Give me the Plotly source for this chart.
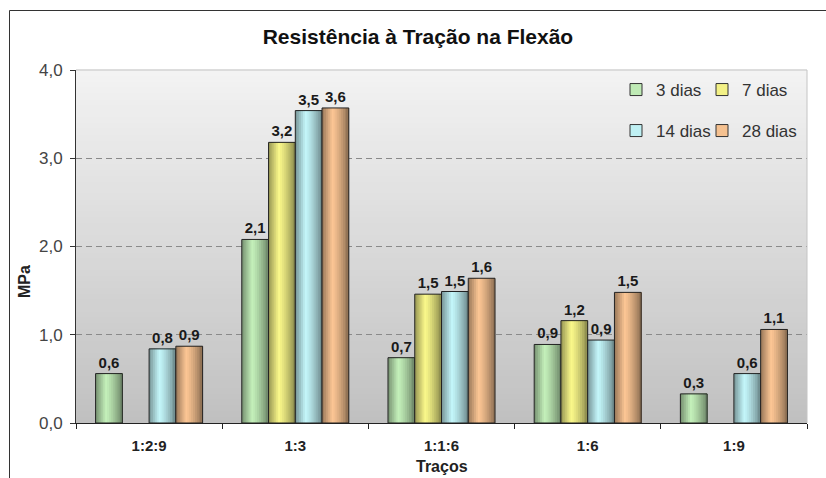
import plotly.graph_objects as go

# Data: flexural tensile strength (MPa) by mix proportion and curing age
tracos = ["1:2:9", "1:3", "1:1:6", "1:6", "1:9"]
dias_3 = [0.56, 2.08, 0.74, 0.89, 0.33]
dias_7 = [None, 3.18, 1.46, 1.16, None]
dias_14 = [0.84, 3.54, 1.49, 0.94, 0.56]
dias_28 = [0.87, 3.57, 1.64, 1.48, 1.06]

series = [
    ("3 dias", dias_3, (196, 240, 186)),
    ("7 dias", dias_7, (250, 248, 138)),
    ("14 dias", dias_14, (196, 246, 250)),
    ("28 dias", dias_28, (252, 198, 148)),
]

FONT = "Liberation Sans, Arial, sans-serif"
W, H = 826, 478
ML, MR, MT, MB = 76, 19, 70, 55
PW, PH = W - ML - MR, H - MT - MB

BAR_W = 0.183          # bar width in category units
GROUP_START = -2 * BAR_W
N_SLICES = 14


def shade(rgb, t):
    """Cylinder-like horizontal shading: dark edges, highlight left of centre."""
    if t < 0.38:
        f = 0.60 + 0.40 * (t / 0.38)
    else:
        f = 1.0 - 0.45 * ((t - 0.38) / 0.62) ** 1.3
    return "rgb(%d,%d,%d)" % tuple(max(0, min(255, round(c * f))) for c in rgb)


def fmt(v):
    return "" if v is None else f"{v:.1f}".replace(".", ",")


def px_x(px):
    return (px - ML) / PW


def px_y(py):
    return (H - MB - py) / PH


fig = go.Figure()
legend_ids = ["legend", "legend2", "legend3", "legend4"]

for i, (name, vals, rgb) in enumerate(series):
    base = GROUP_START + i * BAR_W
    # gradient fill built from nested slices, each covering to the bar's right edge
    for k in range(N_SLICES):
        t = (k + 0.5) / N_SLICES
        fig.add_trace(go.Bar(
            x=tracos, y=vals,
            offset=base + k * BAR_W / N_SLICES,
            width=BAR_W * (N_SLICES - k) / N_SLICES,
            marker=dict(color=shade(rgb, t), line=dict(width=0)),
            showlegend=False, hoverinfo="skip",
        ))
    # outline + value labels
    fig.add_trace(go.Bar(
        x=tracos, y=vals, offset=base, width=BAR_W,
        marker=dict(color="rgba(0,0,0,0)", line=dict(color="#222222", width=1)),
        text=[fmt(v) for v in vals], textposition="outside",
        textfont=dict(family=FONT, size=15, color="#1a1a1a", weight="bold"),
        cliponaxis=False, showlegend=False, name=name,
    ))
    # legend entry (one legend box per entry: 2 x 2 layout)
    fig.add_trace(go.Bar(
        x=tracos, y=[None] * len(tracos), name=name, legend=legend_ids[i],
        marker=dict(color=shade(rgb, 0.45), line=dict(color="#333333", width=1)),
        hoverinfo="skip",
    ))

# vertical gray gradient behind the plot area
shapes = []
NB = 60
for b in range(NB):
    y0, y1 = b / NB, (b + 1) / NB
    t = (b + 0.5) / NB
    g = round(192 + (243 - 192) * t)
    shapes.append(dict(type="rect", xref="paper", yref="paper", x0=0, x1=1,
                       y0=y0, y1=y1 + 0.002, layer="below", line=dict(width=0),
                       fillcolor=f"rgb({g},{g},{g})"))
# light frame on top/right of the plot area
shapes.append(dict(type="line", xref="paper", yref="paper", x0=0, x1=1, y0=1, y1=1,
                   line=dict(color="#c4c4c4", width=1), layer="above"))
shapes.append(dict(type="line", xref="paper", yref="paper", x0=1, x1=1, y0=0, y1=1,
                   line=dict(color="#c4c4c4", width=1), layer="above"))
# outer chart frame (left and top edges)
fx = px_x(9.5)
fy = px_y(10.5)
shapes.append(dict(type="line", xref="paper", yref="paper", x0=fx, x1=fx, y0=-0.3, y1=fy,
                   line=dict(color="#333333", width=1)))
shapes.append(dict(type="line", xref="paper", yref="paper", x0=fx, x1=1.2, y0=fy, y1=fy,
                   line=dict(color="#333333", width=1)))

leg_common = dict(orientation="h", xanchor="left", yanchor="middle",
                  bgcolor="rgba(0,0,0,0)", borderwidth=0, itemwidth=30,
                  font=dict(family=FONT, size=17, color="#333333"))

axis_title_font = dict(family=FONT, size=16, color="#222222", weight="bold")

legend_pos = {
    "legend": (616, 90), "legend2": (702, 90),
    "legend3": (616, 131), "legend4": (702, 131),
}

fig.update_layout(
    width=W, height=H,
    margin=dict(l=ML, r=MR, t=MT, b=MB, autoexpand=False),
    paper_bgcolor="white", plot_bgcolor="rgb(220,220,220)",
    barmode="overlay", separators=",.",
    title=dict(text="Resistência à Tração na Flexão", x=0.506, xanchor="center",
               y=1 - 37 / H, yanchor="middle",
               font=dict(family=FONT, size=21, color="#111111", weight="bold")),
    xaxis=dict(type="category", range=[-0.5, 4.5], tickson="boundaries",
               ticks="outside", ticklen=5, tickcolor="#222222",
               showline=True, linecolor="#222222", linewidth=1, showgrid=False,
               ticklabelstandoff=9,
               tickfont=dict(family=FONT, size=15, color="#222222", weight="bold")),
    yaxis=dict(range=[0, 4], dtick=1, tickformat=".1f",
               ticks="outside", ticklen=5, tickcolor="#333333",
               showline=True, linecolor="#333333", linewidth=1,
               showgrid=True, gridcolor="#8a8a8a", gridwidth=1, griddash="6px,4px",
               zeroline=False, ticklabelstandoff=4,
               tickfont=dict(family=FONT, size=17, color="#444444")),
    annotations=[
        dict(text="Traços", xref="paper", yref="paper", x=px_x(442), y=px_y(466),
             xanchor="center", yanchor="middle", showarrow=False, font=axis_title_font),
        dict(text="MPa", xref="paper", yref="paper", x=px_x(24), y=px_y(282),
             xanchor="center", yanchor="middle", showarrow=False, textangle=-90,
             font=axis_title_font),
    ],
    shapes=shapes,
)
for lid, (lx, ly) in legend_pos.items():
    fig.update_layout({lid: dict(x=px_x(lx), y=px_y(ly), **leg_common)})

fig.write_html("out.html")
